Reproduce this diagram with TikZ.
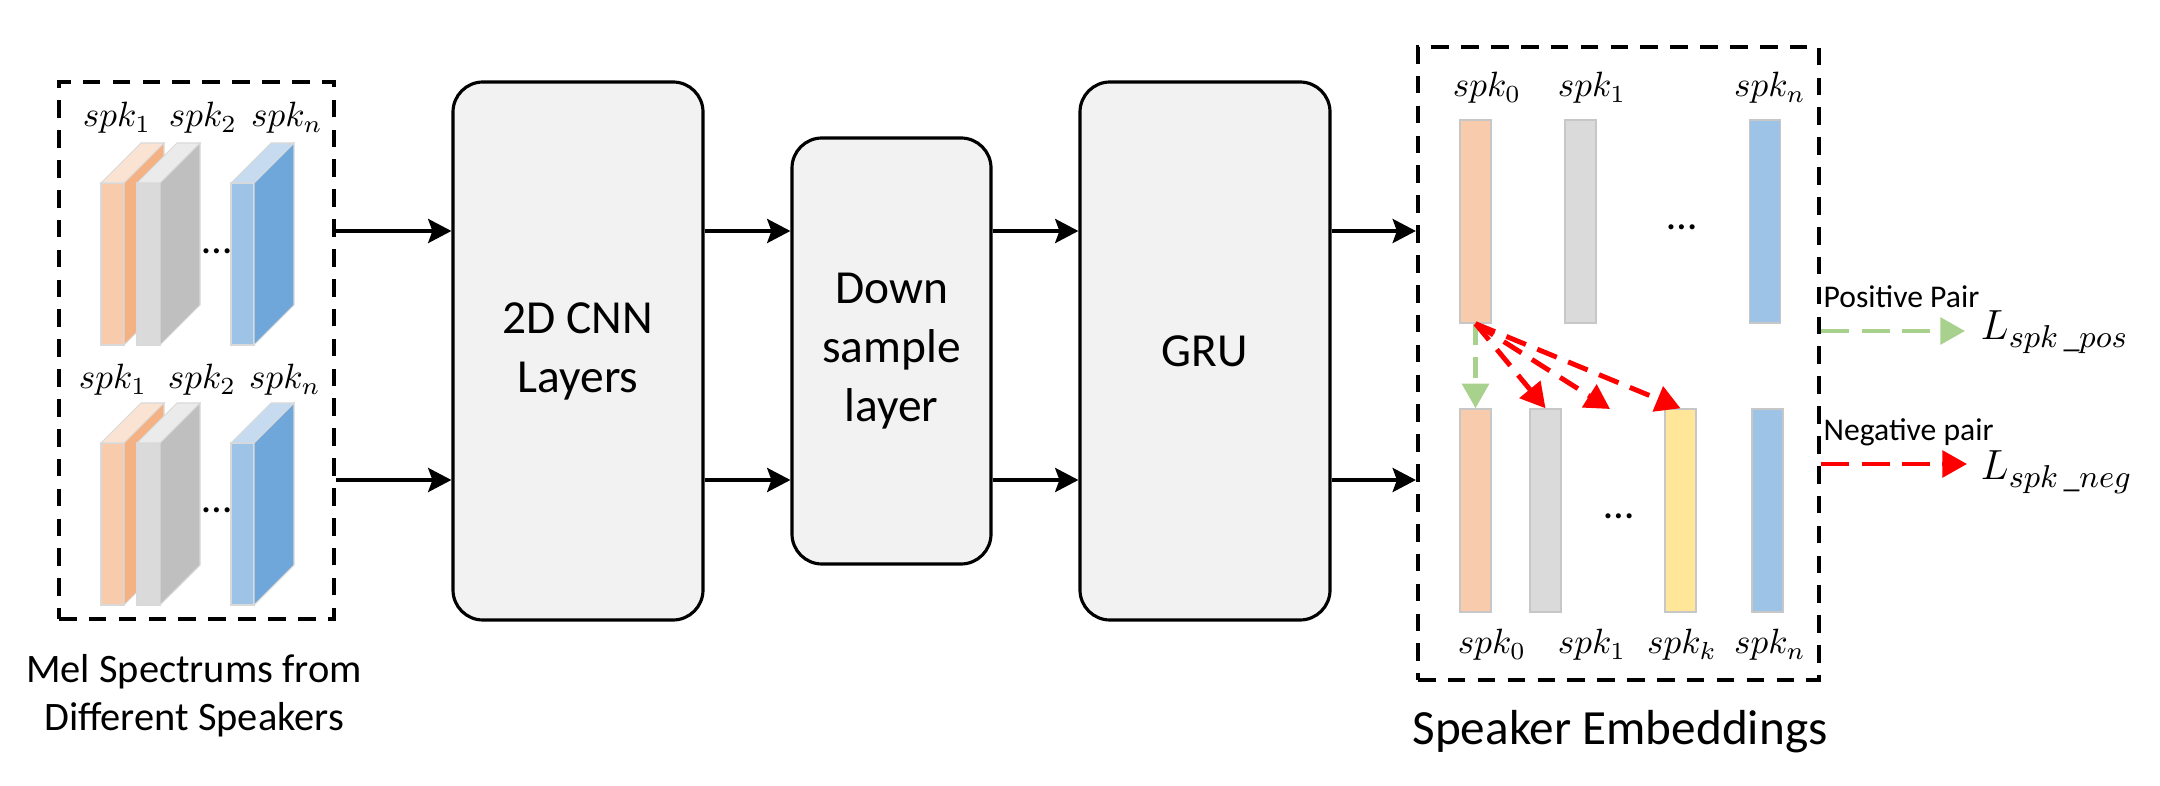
\documentclass[tikz,border=0pt]{standalone}
\usepackage[no-math]{fontspec}
\setmainfont{Carlito}
\usepackage{amsmath}
\usepackage{amssymb}
\usetikzlibrary{positioning, arrows.meta}

\definecolor{orgF}{HTML}{F8CBAD}
\definecolor{orgS}{HTML}{F4B183}
\definecolor{orgT}{HTML}{FBE3D3}
\definecolor{gryF}{HTML}{DADADA}
\definecolor{gryS}{HTML}{BFBFBF}
\definecolor{gryT}{HTML}{EBEBEB}
\definecolor{bluF}{HTML}{9DC3E6}
\definecolor{bluS}{HTML}{70A7DA}
\definecolor{bluT}{HTML}{C6DBF0}
\definecolor{ylwF}{HTML}{FFE699}
\definecolor{posG}{HTML}{A9D18E}
\definecolor{boxG}{HTML}{F2F2F2}

% one mel slab: x, y of the front lower left corner, front, side, top colour
\newcommand{\melslab}[5]{
\filldraw[fill=#3, draw=black!15, line width=0.3pt] (#1,#2) rectangle (#1+0.23,#2+1.62);
\filldraw[fill=#4, draw=black!15, line width=0.3pt] (#1+0.23,#2) -- (#1+0.63,#2+0.40) -- (#1+0.63,#2+2.02) -- (#1+0.23,#2+1.62) -- cycle;
\filldraw[fill=#5, draw=black!15, line width=0.3pt] (#1,#2+1.62) -- (#1+0.23,#2+1.62) -- (#1+0.63,#2+2.02) -- (#1+0.40,#2+2.02) -- cycle;
}

\begin{document}
\begin{tikzpicture}[
  blk/.style={draw, line width=0.9pt, rounded corners=0.3cm, fill=boxG, align=center, font=\fontsize{13.5}{16.8}\selectfont},
  dashbox/.style={draw, line width=1.2pt, dash pattern=on 5pt off 3.5pt, inner sep=0},
  flow/.style={line width=1.2pt, -{Stealth[length=6.6pt,width=6.8pt,inset=1.2pt]}},
  posarr/.style={draw=posG, line width=1.3pt, dash pattern=on 8pt off 3.5pt, -{Triangle[length=7pt,width=7.5pt]}},
  negarr/.style={draw=red, line width=1.3pt, dash pattern=on 8pt off 3.5pt, -{Triangle[length=7pt,width=7.5pt]}},
  innerarr/.style={line width=1.4pt, dash pattern=on 6pt off 3.5pt, -{Triangle[length=7pt,width=7.5pt]}},
  bar/.style={draw=black!22, line width=0.4pt, minimum width=0.31cm, minimum height=2.03cm, inner sep=0},
  lbl/.style={inner sep=0, font=\normalsize},
  dotlbl/.style={inner sep=0, font=\fontsize{12}{14}\selectfont}
]

\useasboundingbox (0,0) rectangle (21.6,7.85);

\coordinate (rowA) at (0,5.54);
\coordinate (rowB) at (0,3.05);

% mel spectrums
\node[dashbox, minimum width=2.75cm, minimum height=5.37cm] (mel) at (1.965,4.345) {};

\melslab{1.01}{4.40}{orgF}{orgS}{orgT}
\melslab{1.37}{4.40}{gryF}{gryS}{gryT}
\melslab{2.31}{4.40}{bluF}{bluS}{bluT}
\melslab{1.01}{1.80}{orgF}{orgS}{orgT}
\melslab{1.37}{1.80}{gryF}{gryS}{gryT}
\melslab{2.31}{1.80}{bluF}{bluS}{bluT}

\node[lbl] (ma1) at (1.17,6.67) {$spk_1$};
\node[lbl] (ma2) at (2.03,6.67) {$spk_2$};
\node[lbl] (man) at (2.87,6.67) {$spk_n$};
\node[lbl] (mb1) at (1.13,4.05) {$spk_1$};
\node[lbl] (mb2) at (2.02,4.05) {$spk_2$};
\node[lbl] (mbn) at (2.85,4.05) {$spk_n$};
\node[dotlbl] (mdotsa) at (2.17,5.34) {…};
\node[dotlbl] (mdotsb) at (2.17,2.75) {…};

\node[align=center, font=\fontsize{11.5}{13.7}\selectfont] (meltext) at (1.94,0.89) {Mel Spectrums from\\Different Speakers};

% network blocks
\node[blk, minimum width=2.50cm, minimum height=5.38cm] (cnn) at (5.78,4.34) {2D CNN\\Layers};
\node[blk, minimum width=1.99cm, minimum height=4.26cm] (down) at (8.915,4.34) {Down\\sample\\layer};
\node[blk, minimum width=2.50cm, minimum height=5.38cm] (gru) at (12.05,4.34) {GRU};

% speaker embeddings
\node[dashbox, minimum width=4.01cm, minimum height=6.33cm] (emb) at (16.185,4.215) {};

\node[bar, fill=orgF] (e00) at (14.755,5.635) {};
\node[bar, fill=gryF] (e01) at (15.805,5.635) {};
\node[bar, fill=bluF] (e0n) at (17.65,5.635) {};
\node[bar, fill=orgF] (e10) at (14.755,2.745) {};
\node[bar, fill=gryF] (e11) at (15.455,2.745) {};
\node[bar, fill=ylwF] (e1k) at (16.805,2.745) {};
\node[bar, fill=bluF] (e1n) at (17.675,2.745) {};

\node[lbl] (ea0) at (14.87,6.97) {$spk_0$};
\node[lbl] (ea1) at (15.92,6.97) {$spk_1$};
\node[lbl] (ean) at (17.70,6.97) {$spk_n$};
\node[lbl] (eb0) at (14.92,1.40) {$spk_0$};
\node[lbl] (eb1) at (15.92,1.40) {$spk_1$};
\node[lbl] (ebk) at (16.82,1.40) {$spk_k$};
\node[lbl] (ebn) at (17.70,1.40) {$spk_n$};
\node[dotlbl] (edotsa) at (16.82,5.58) {…};
\node[dotlbl] (edotsb) at (16.19,2.69) {…};

\node[font=\fontsize{14}{17}\selectfont] (embtext) at (16.20,0.53) {Speaker Embeddings};

% pairs
\coordinate (midend) at (16.10,3.76);
\draw[innerarr, draw=posG, -{Triangle[length=7pt,width=7.5pt,fill=posG]}] (e00.south) -- (e10.north);
\draw[innerarr, draw=red] (e00.south) -- (e11.north);
\draw[innerarr, draw=red] (e00.south) -- (midend);
\draw[innerarr, draw=red] (e00.south) -- (e1k.north);

% losses
\node[anchor=west, inner sep=0, font=\fontsize{9}{11}\selectfont] (postext) at (18.23,4.88) {Positive Pair};
\node[anchor=west, inner sep=0, font=\fontsize{9}{11}\selectfont] (negtext) at (18.23,3.53) {Negative pair};
\node[anchor=base west, inner sep=0, font=\fontsize{13}{15}\selectfont] (lpos) at (19.80,4.45) {$L_{spk\,\_pos}$};
\node[anchor=base west, inner sep=0, font=\fontsize{13}{15}\selectfont] (lneg) at (19.80,3.05) {$L_{spk\,\_neg}$};
\coordinate (posend) at (19.65,4.54);
\coordinate (negend) at (19.67,3.21);
\draw[posarr] (emb.east |- posend) -- (posend);
\draw[negarr] (emb.east |- negend) -- (negend);

% main flow
\draw[flow] (mel.east |- rowA) -- (cnn.west |- rowA);
\draw[flow] (mel.east |- rowB) -- (cnn.west |- rowB);
\draw[flow] (cnn.east |- rowA) -- (down.west |- rowA);
\draw[flow] (cnn.east |- rowB) -- (down.west |- rowB);
\draw[flow] (down.east |- rowA) -- (gru.west |- rowA);
\draw[flow] (down.east |- rowB) -- (gru.west |- rowB);
\draw[flow] (gru.east |- rowA) -- (emb.west |- rowA);
\draw[flow] (gru.east |- rowB) -- (emb.west |- rowB);

\end{tikzpicture}
\end{document}
